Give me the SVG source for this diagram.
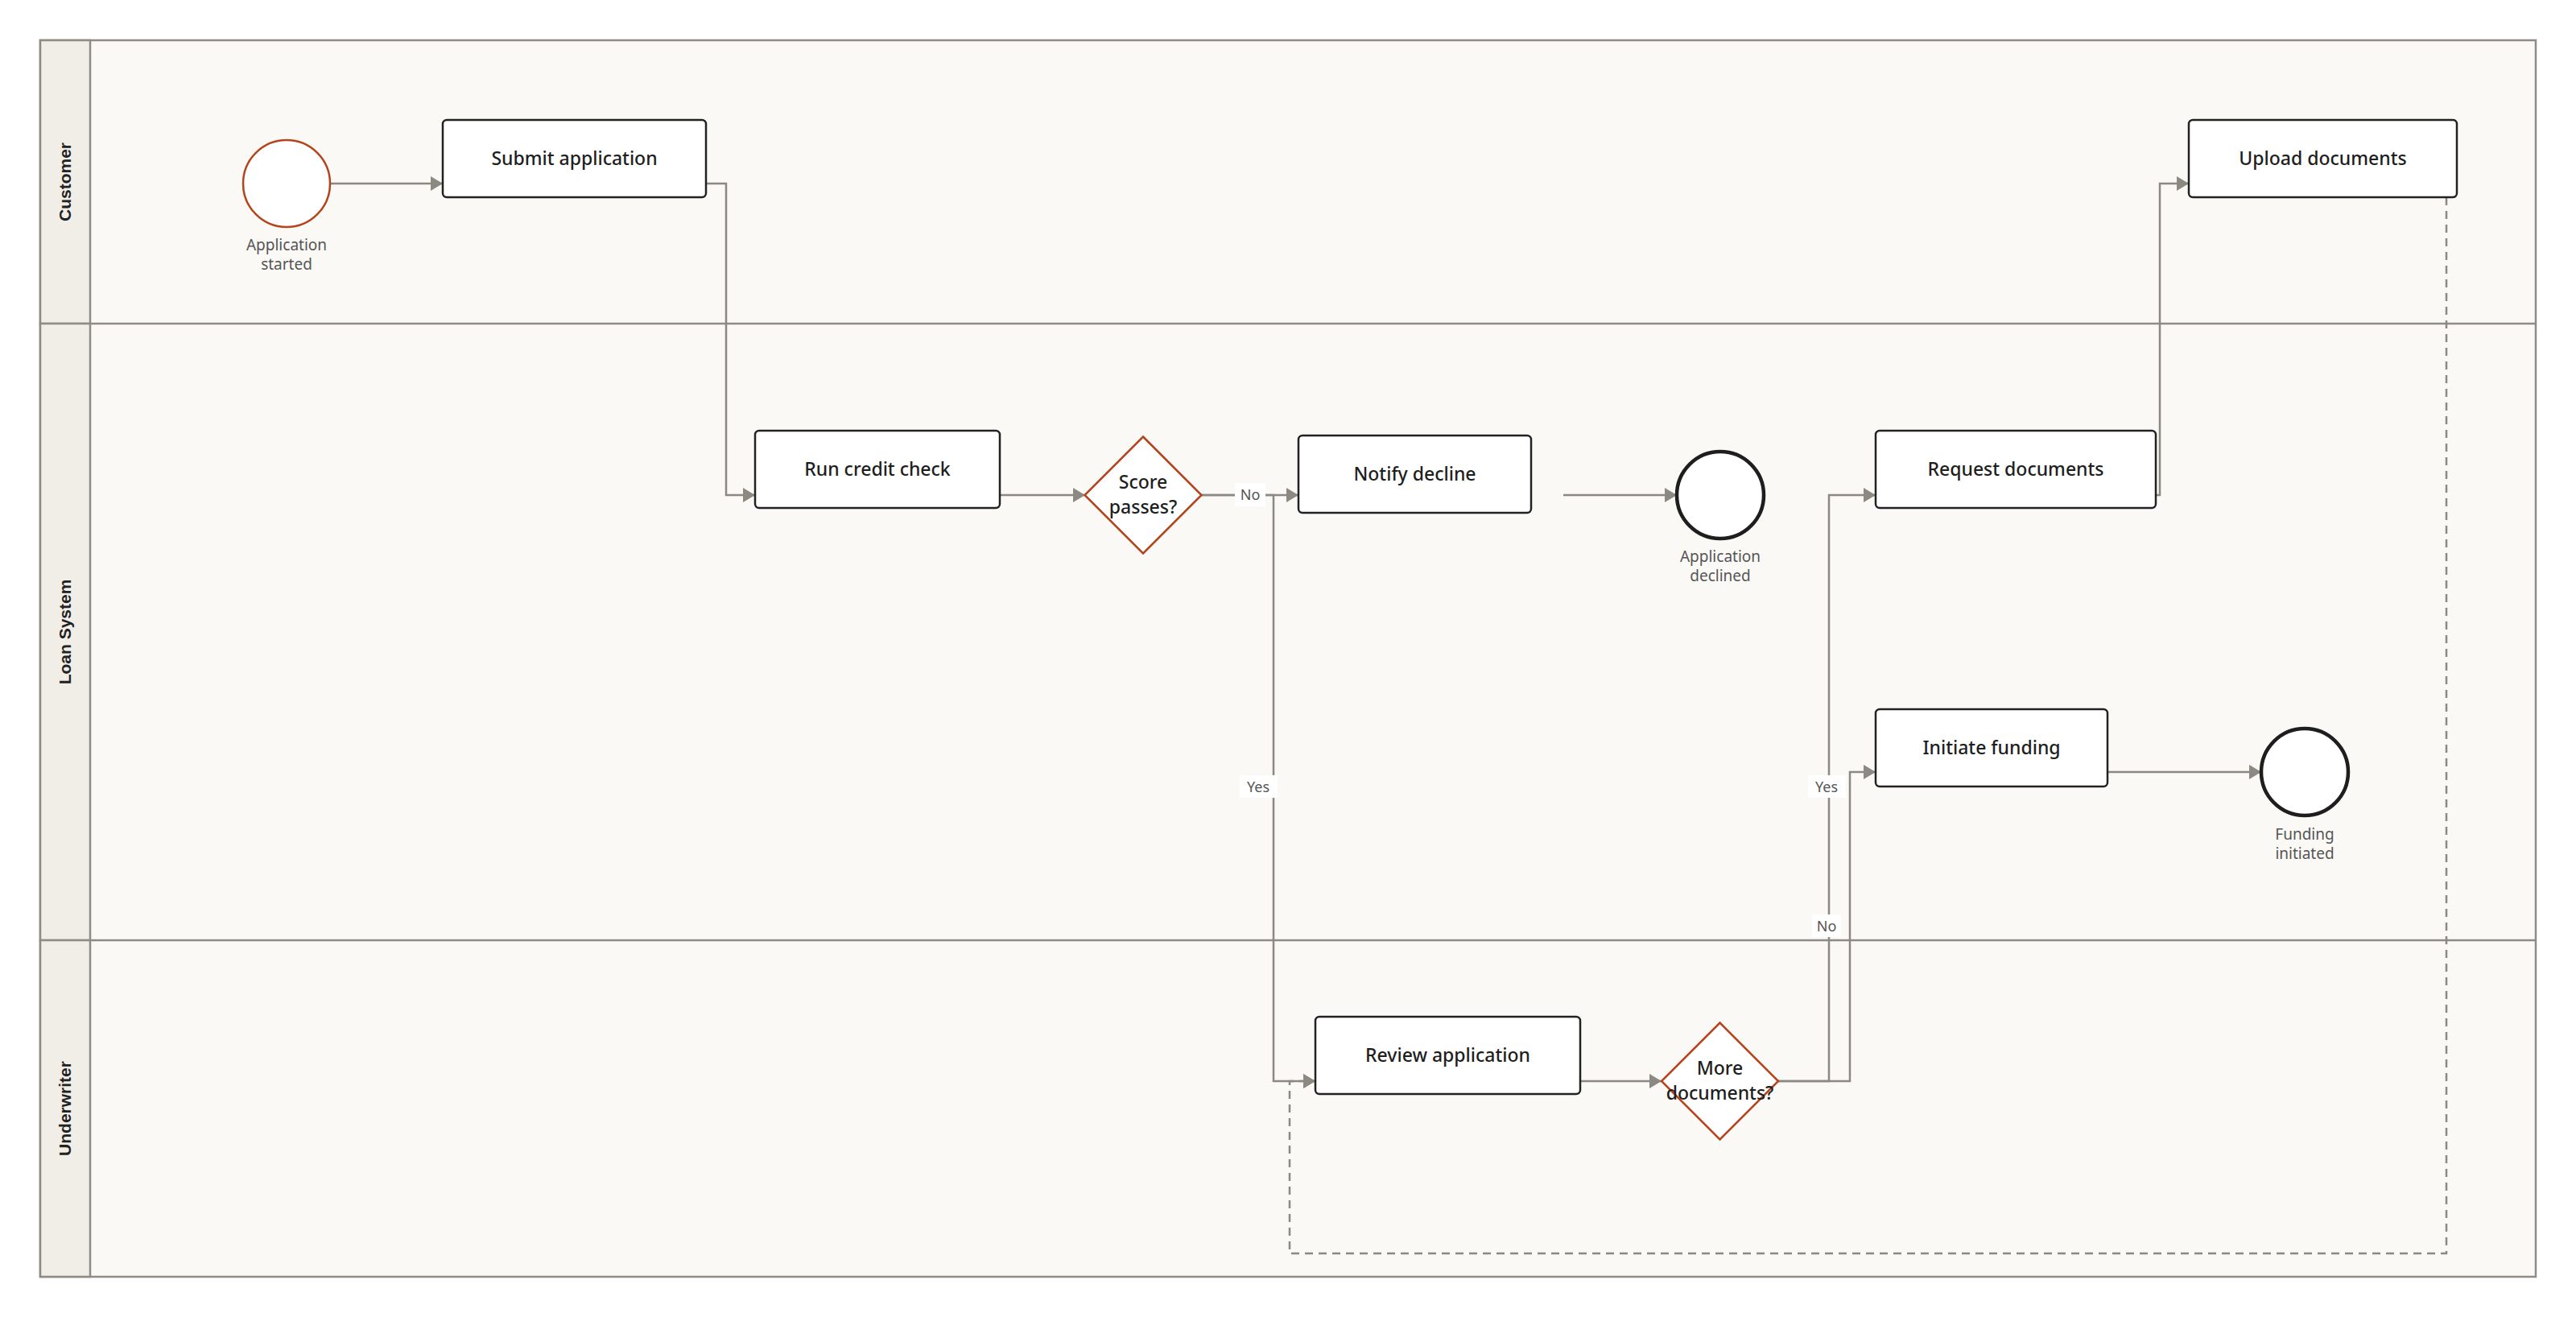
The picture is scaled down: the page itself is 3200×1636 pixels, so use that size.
<svg xmlns="http://www.w3.org/2000/svg" width="3200" height="1636" viewBox="0 0 3200 1636">
<defs>
<style>
.lane{fill:#faf9f6;stroke:#8f8b85;stroke-width:2.5}
.hdr{fill:#f1eee8;stroke:#8f8b85;stroke-width:2.5}
.lanetxt{font-family:"Liberation Sans",Arial,sans-serif;font-weight:bold;font-size:21px;fill:#222;text-anchor:middle}
.task{fill:#fff;stroke:#222;stroke-width:2.5}
.gw{fill:#fff;stroke:#b5441c;stroke-width:2.5}
.start{fill:#fff;stroke:#b5441c;stroke-width:2.5}
.end{fill:#fff;stroke:#1e1e1e;stroke-width:4.5}
.t{font-family:"Noto Sans","Liberation Sans",sans-serif;font-size:23px;font-weight:500;fill:#1e1e1e;text-anchor:middle}
.lbl{font-family:"Noto Sans","Liberation Sans",sans-serif;font-size:19px;fill:#555;text-anchor:middle}
.el{font-family:"Noto Sans","Liberation Sans",sans-serif;font-size:18px;fill:#555;text-anchor:middle}
.flow{fill:none;stroke:#8c8882;stroke-width:2.5}
.msg{fill:none;stroke:#8c8882;stroke-width:2.5;stroke-dasharray:10 7}
.lb{fill:#fff}
</style>
<marker id="arr" viewBox="0 0 15 18" refX="15" refY="9" markerWidth="15" markerHeight="18" markerUnits="userSpaceOnUse" orient="auto">
<path d="M0,0 L15,9 L0,18 Z" fill="#8c8882"/>
</marker>
</defs>
<rect width="3200" height="1636" fill="#fff"/>
<g id="lanes">
<rect class="lane" x="50" y="50" width="3100" height="1536"/>
<line x1="50" y1="402" x2="3150" y2="402" stroke="#8f8b85" stroke-width="2.5"/>
<line x1="50" y1="1168" x2="3150" y2="1168" stroke="#8f8b85" stroke-width="2.5"/>
<rect class="hdr" x="50" y="50" width="62" height="352"/>
<rect class="hdr" x="50" y="402" width="62" height="766"/>
<rect class="hdr" x="50" y="1168" width="62" height="418"/>
<text class="lanetxt" transform="translate(88,226) rotate(-90)">Customer</text>
<text class="lanetxt" transform="translate(88,785) rotate(-90)">Loan System</text>
<text class="lanetxt" transform="translate(88,1377) rotate(-90)">Underwriter</text>
</g>
<g id="connectors">
<path class="msg" d="M3039,245 V1557 H1602 V1343 H1634" marker-end="url(#arr)"/>
<path class="flow" d="M410,228 H550" marker-end="url(#arr)"/>
<path class="flow" d="M877,228 H902 V615 H938" marker-end="url(#arr)"/>
<path class="flow" d="M1242,615 H1348" marker-end="url(#arr)"/>
<path class="flow" d="M1492,615 H1613" marker-end="url(#arr)"/>
<path class="flow" d="M1492,615 H1582 V1343 H1634" marker-end="url(#arr)"/>
<path class="flow" d="M1942,615 H2083" marker-end="url(#arr)"/>
<path class="flow" d="M1963,1343 H2064" marker-end="url(#arr)"/>
<path class="flow" d="M2209,1343 H2272 V615 H2330" marker-end="url(#arr)"/>
<path class="flow" d="M2209,1343 H2298 V959 H2330" marker-end="url(#arr)"/>
<path class="flow" d="M2678,615 H2683 V228 H2719" marker-end="url(#arr)"/>
<path class="flow" d="M2618,959 H2809" marker-end="url(#arr)"/>
<rect class="lb" x="1534" y="600" width="38" height="29"/>
<text class="el" x="1553" y="621">No</text>
<rect class="lb" x="1540" y="963" width="47" height="28"/>
<text class="el" x="1563" y="984">Yes</text>
<rect class="lb" x="2246" y="963" width="47" height="28"/>
<text class="el" x="2269" y="984">Yes</text>
<rect class="lb" x="2251" y="1136" width="36" height="28"/>
<text class="el" x="2269" y="1157">No</text>
</g>
<g id="start">
<circle class="start" cx="356" cy="228" r="54"/>
<text class="lbl" x="356" y="311">Application</text>
<text class="lbl" x="356" y="335">started</text>
</g>
<g id="submit">
<rect class="task" x="550" y="149" width="327" height="96" rx="5"/>
<text class="t" x="713.5" y="205">Submit application</text>
</g>
<g id="credit">
<rect class="task" x="938" y="535" width="304" height="96" rx="5"/>
<text class="t" x="1090" y="591">Run credit check</text>
</g>
<g id="score">
<polygon class="gw" points="1420,542.5 1492.5,615 1420,687.5 1347.5,615"/>
<text class="t" x="1420" y="607">Score</text>
<text class="t" x="1420" y="638">passes?</text>
</g>
<g id="notify">
<rect class="task" x="1613" y="541" width="289" height="96" rx="5"/>
<text class="t" x="1757.5" y="597">Notify decline</text>
</g>
<g id="declined">
<circle class="end" cx="2137" cy="615" r="54"/>
<text class="lbl" x="2137" y="698">Application</text>
<text class="lbl" x="2137" y="722">declined</text>
</g>
<g id="request">
<rect class="task" x="2330" y="535" width="348" height="96" rx="5"/>
<text class="t" x="2504" y="591">Request documents</text>
</g>
<g id="upload">
<rect class="task" x="2719" y="149" width="333" height="96" rx="5"/>
<text class="t" x="2885.5" y="205">Upload documents</text>
</g>
<g id="funding">
<rect class="task" x="2330" y="881" width="288" height="96" rx="5"/>
<text class="t" x="2474" y="937">Initiate funding</text>
</g>
<g id="funded">
<circle class="end" cx="2863" cy="959" r="54"/>
<text class="lbl" x="2863" y="1043">Funding</text>
<text class="lbl" x="2863" y="1067">initiated</text>
</g>
<g id="review">
<rect class="task" x="1634" y="1263" width="329" height="96" rx="5"/>
<text class="t" x="1798.5" y="1319">Review application</text>
</g>
<g id="more">
<polygon class="gw" points="2136.5,1270.5 2209,1343 2136.5,1415.5 2064,1343"/>
<text class="t" x="2136.5" y="1335">More</text>
<text class="t" x="2136.5" y="1366">documents?</text>
</g>
</svg>
